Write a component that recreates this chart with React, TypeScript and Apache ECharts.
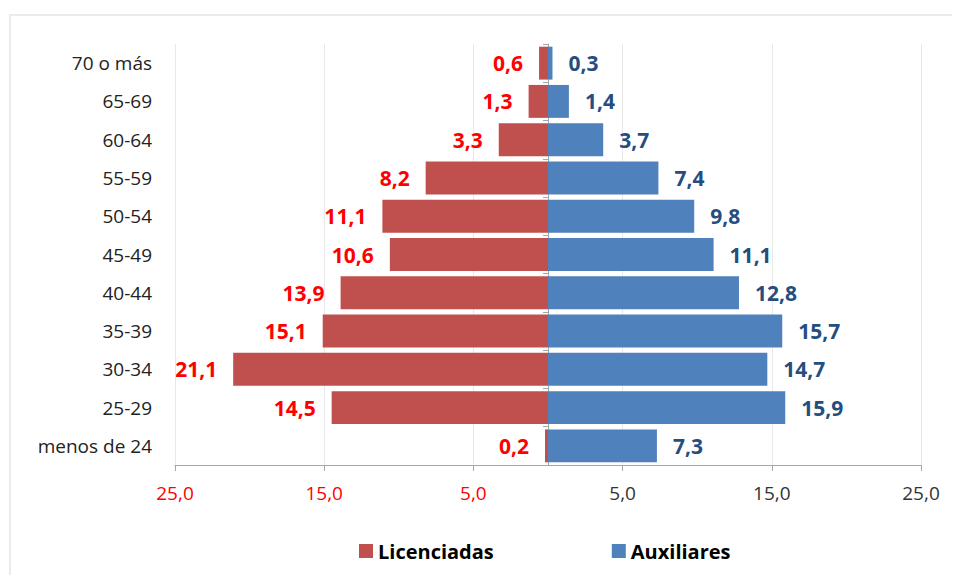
import React, { useEffect, useRef } from "react";
import * as echarts from "echarts";

const categories = ["menos de 24", "25-29", "30-34", "35-39", "40-44", "45-49", "50-54", "55-59", "60-64", "65-69", "70 o más"];
const licenciadas = [0.2, 14.5, 21.1, 15.1, 13.9, 10.6, 11.1, 8.2, 3.3, 1.3, 0.6];
const auxiliares = [7.3, 15.9, 14.7, 15.7, 12.8, 11.1, 9.8, 7.4, 3.7, 1.4, 0.3];
const seriesNames = ["Licenciadas", "Auxiliares"];

const fmt = (v: number) => Math.abs(v).toFixed(1).replace(".", ",");
const FONT = "'Open Sans', 'Noto Sans', sans-serif";

export default function App() {
  const ref = useRef<HTMLDivElement>(null);
  useEffect(() => {
    if (!ref.current) return;
    const chart = echarts.init(ref.current, null, { renderer: "svg" });
    chart.setOption({
      animation: false,
      backgroundColor: "#ffffff",
      graphic: [
        {
          type: "rect",
          shape: { x: 2, y: 7, width: 980, height: 600 },
          style: { fill: "none", stroke: "#EBEBEB", lineWidth: 2 },
          silent: true,
          z: -1,
        },
      ],
      legend: {
        top: 528,
        left: 346,
        itemWidth: 14,
        itemHeight: 14,
        itemGap: 118,
        icon: "rect",
        textStyle: { fontFamily: FONT, fontSize: 20, fontWeight: "bold", color: "#000" },
        data: seriesNames,
      },
      grid: { left: 167, right: 31, top: 36, bottom: 110 },
      xAxis: {
        type: "value",
        min: -25,
        max: 25,
        interval: 10,
        axisLine: { show: true, lineStyle: { color: "#A6A6A6" } },
        axisTick: { show: true, length: 6, lineStyle: { color: "#A6A6A6" } },
        splitLine: { show: true, lineStyle: { color: "#E8E8E8" } },
        axisLabel: {
          margin: 18,
          fontFamily: FONT,
          fontSize: 19,
          formatter: (v: number) => fmt(v),
          color: (v: any) => (Number(v) < 0 ? "#FF0000" : "#333333"),
        },
      },
      yAxis: [
        {
          type: "category",
          data: categories,
          position: "left",
          axisLine: { show: false, onZero: false },
          axisTick: { show: false },
          axisLabel: { fontFamily: FONT, fontSize: 19, color: "#222", margin: 23 },
        },
        {
          type: "category",
          data: categories,
          position: "left",
          axisLine: { show: true, onZero: true, lineStyle: { color: "#A6A6A6" } },
          axisTick: { show: true, length: 5, lineStyle: { color: "#A6A6A6" } },
          axisLabel: { show: false },
        },
      ],
      series: [
        {
          name: seriesNames[0],
          type: "bar",
          data: licenciadas.map((v) => -v),
          barWidth: "86%",
          barGap: "-100%",
          itemStyle: { color: "#C0504D" },
          label: {
            show: true,
            position: "left",
            distance: 16,
            formatter: (p: any) => fmt(p.value),
            color: "#FF0000",
            fontFamily: FONT,
            fontSize: 21,
            fontWeight: "bold",
          },
        },
        {
          name: seriesNames[1],
          type: "bar",
          data: auxiliares,
          barWidth: "86%",
          barGap: "-100%",
          itemStyle: { color: "#4F81BD" },
          label: {
            show: true,
            position: "right",
            distance: 16,
            formatter: (p: any) => fmt(p.value),
            color: "#254E7F",
            fontFamily: FONT,
            fontSize: 21,
            fontWeight: "bold",
          },
        },
      ],
    });
    return () => chart.dispose();
  }, []);
  return <div ref={ref} style={{ width: 944, height: 567 }} />;
}
